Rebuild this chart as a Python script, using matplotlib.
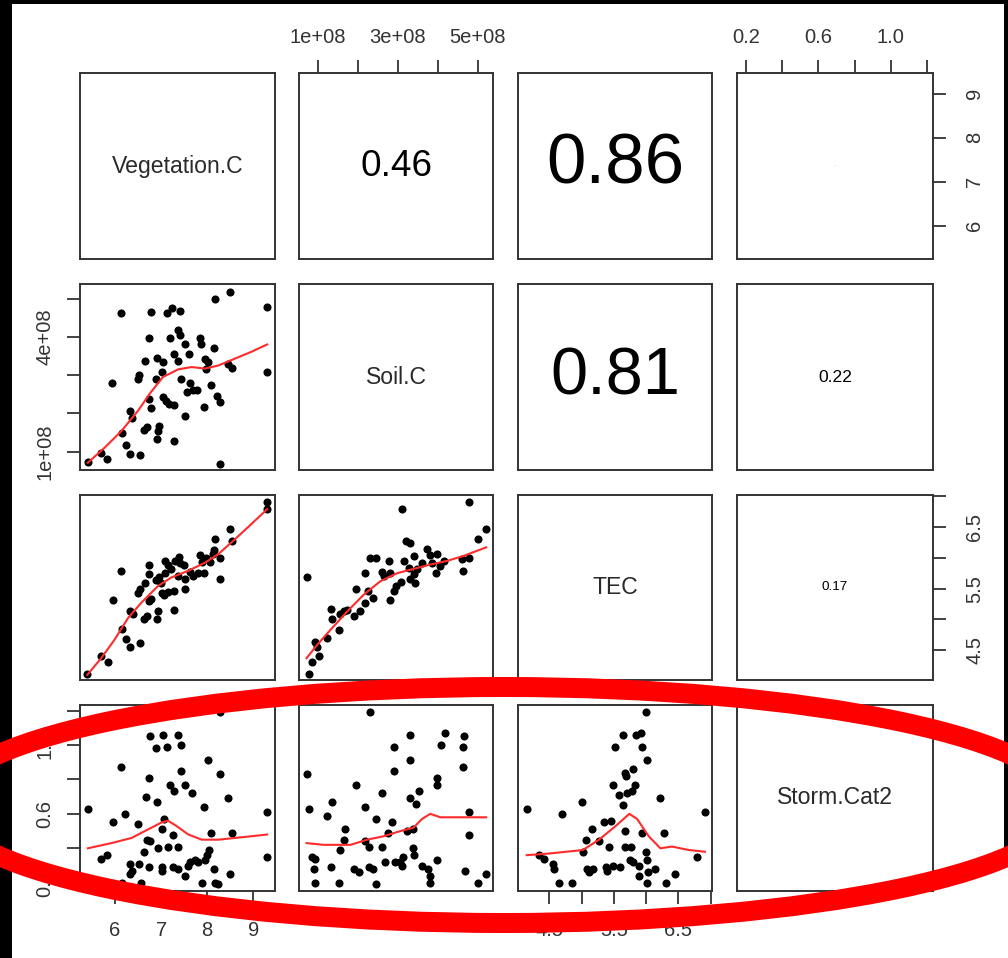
import numpy as np
import matplotlib; matplotlib.use("Agg")
import matplotlib.pyplot as plt
from matplotlib.patches import Ellipse, Rectangle

plt.rcParams["font.family"] = ["Liberation Sans", "DejaVu Sans"]

# ---- data (soil carbon in units of 1e8) ----
names = ["Vegetation.C", "Soil.C", "TEC", "Storm.Cat2"]

# row 2 / col 1 : Soil.C vs Vegetation.C
p21_veg = [5.41,5.69,5.83,6.12,5.94, 6.16,6.23,6.32,6.55,6.32, 6.36,6.49,6.51,6.63,6.70,
           6.73,6.78,6.64,6.73,6.77, 6.90,6.88,6.96,6.93,6.90, 7.04,7.01,7.04,7.10,7.17,
           7.28,7.12,7.24,7.41,7.19, 7.37,7.41,7.28,7.36,7.51, 7.60,7.43,7.62,7.57,7.70,
           7.78,7.51,7.28,7.84,7.86, 7.95,8.01,7.97,7.93,8.08, 8.15,8.17,8.49,8.22,8.28,
           8.44,8.53,8.27,9.30,9.30]
p21_soil = [0.73,0.96,0.82,4.61,2.80, 1.48,1.18,0.93,0.90,2.07, 1.89,2.89,2.99,1.57,1.65,
            2.38,2.13,3.36,3.97,4.64, 3.45,2.90,1.68,1.54,1.32, 3.34,3.08,2.42,2.33,2.25,
            2.22,4.61,4.76,4.68,3.97, 4.18,4.06,3.54,3.36,3.80, 3.56,2.90,2.80,2.55,2.60,
            2.62,1.94,1.28,3.97,3.80, 3.41,3.34,3.15,2.16,2.75, 3.71,4.99,5.18,2.46,2.29,
            3.30,3.18,0.68,4.79,3.08]
p21_fit_veg = [5.41,5.78,6.14,6.50,6.75,7.04,7.37,7.66,7.95,8.24,8.60,8.96,9.30]
p21_fit_soil = [0.71,1.11,1.54,2.07,2.51,2.95,3.15,3.21,3.17,3.25,3.43,3.61,3.80]

# row 3 / col 1 : TEC vs Vegetation.C
p31_veg = [5.40,5.69,5.85,5.96,6.12, 6.16,6.23,6.32,6.55,6.32, 6.38,6.49,6.54,6.64,6.63,
           6.70,6.73,6.78,6.74,6.74, 6.90,6.93,6.88,6.96,7.01, 7.07,7.15,7.28,7.28,7.09,
           7.14,7.22,7.09,7.30,7.39, 7.41,7.50,7.36,7.51,7.51, 7.62,7.70,7.79,7.93,7.84,
           7.88,7.97,8.06,8.13,8.15, 8.28,8.17,8.28,8.49,8.53, 9.30,9.30,6.99]
p31_tec = [4.12,4.40,4.31,5.32,5.79, 4.84,4.68,4.55,4.61,5.13, 5.09,5.43,5.49,5.59,5.01,
           5.05,5.30,5.33,5.88,5.74, 5.01,5.13,5.64,5.68,5.43, 5.39,5.44,5.46,5.16,5.95,
           5.89,5.82,5.76,5.95,6.02, 5.92,5.88,5.71,5.66,5.49, 5.77,5.70,5.76,5.76,6.04,
           5.93,6.00,5.93,6.06,6.13, 5.99,6.31,5.66,6.47,6.28, 6.91,6.80,5.59]
p31_fit_veg = [5.40,5.70,5.99,6.28,6.57,6.93,7.22,7.59,7.95,8.24,8.60,8.96,9.30]
p31_fit_tec = [4.10,4.37,4.67,5.02,5.27,5.54,5.68,5.79,5.92,6.06,6.30,6.55,6.79]

# row 3 / col 2 : TEC vs Soil.C
p32_soil = [0.71,0.77,0.85,0.91,0.96, 1.02,1.21,1.31,1.35,1.52, 1.54,1.64,1.71,1.91,2.06,
            1.96,2.18,2.18,2.24,2.38, 2.29,2.46,2.60,2.66,2.77, 2.81,2.81,2.89,2.96,3.08,
            3.10,3.14,3.21,3.31,3.27, 3.29,3.39,3.41,3.43,3.48, 3.60,3.73,3.79,3.85,3.98,
            3.96,4.06,4.14,4.60,4.62, 4.77,4.79,5.00,5.21]
p32_tec = [5.68,4.12,4.31,4.64,4.55, 4.40,4.69,5.17,5.00,4.83, 5.08,5.13,5.16,5.06,5.13,
           5.49,5.76,5.27,5.46,5.35, 5.99,5.99,5.77,5.70,5.95, 5.76,5.32,5.46,5.54,5.61,
           6.80,5.95,6.28,6.24,5.84, 5.66,6.03,5.73,5.59,5.82, 5.92,6.14,6.04,5.92,6.06,
           5.76,5.87,5.95,5.98,5.79, 5.99,6.91,6.30,6.47]
p32_fit_soil = [0.71,0.98,1.31,1.73,2.14,2.56,2.98,3.39,3.81,4.23,4.64,5.21]
p32_fit_tec = [4.37,4.59,4.83,5.13,5.40,5.62,5.75,5.82,5.89,5.95,6.03,6.17]

# row 4 / col 1 : Storm.Cat2 vs Vegetation.C
p41_veg = [5.41,5.70,5.83,5.96,6.12, 6.21,6.16,6.32,6.36,6.32, 6.52,6.56,6.50,6.63,6.67,
           6.70,6.75,6.73,6.73,6.75, 6.88,6.90,6.93,7.01,7.07, 7.04,7.12,7.01,7.01,7.14,
           7.19,7.25,7.28,7.26,7.36, 7.37,7.43,7.43,7.37,7.51, 7.51,7.59,7.62,7.67,7.73,
           7.79,7.88,7.93,7.95,7.99, 8.02,8.04,8.08,8.15,8.17, 8.24,8.28,8.28,8.44,8.53,
           8.49,9.30,9.30]
p41_storm = [0.63,0.34,0.36,0.55,0.87, 0.60,0.20,0.31,0.27,0.25, 0.31,0.20,0.54,0.38,0.70,
             0.45,0.44,0.29,0.81,1.05, 0.98,0.67,0.40,0.51,0.57, 1.06,0.99,0.29,0.27,0.41,
             0.77,0.48,0.73,0.29,0.41, 1.06,1.00,0.85,0.28,0.77, 0.24,0.30,0.32,0.72,0.33,
             0.32,0.20,0.64,0.33,0.36, 0.91,0.39,0.49,0.28,0.20, 0.19,1.19,0.83,0.69,0.49,
             0.25,0.61,0.35]
p41_fit_veg = [5.41,5.92,6.36,6.72,7.01,7.15,7.33,7.59,7.88,8.24,8.60,8.96,9.30]
p41_fit_storm = [0.40,0.43,0.46,0.51,0.55,0.56,0.53,0.48,0.45,0.45,0.46,0.47,0.48]

# row 4 / col 2 : Storm.Cat2 vs Soil.C
p42_soil = [0.73,0.77,0.85,0.93,0.89, 0.93,1.21,1.31,1.35,1.52, 1.54,1.64,1.68,1.89,2.02,
            1.96,2.18,2.18,2.27,2.27, 2.38,2.31,2.46,2.46,2.60, 2.60,2.68,2.74,2.85,2.91,
            2.91,2.93,3.06,3.13,3.10, 3.23,3.31,3.31,3.29,3.38, 3.38,3.41,3.46,3.52,3.60,
            3.75,3.81,3.79,3.98,3.98, 3.98,4.08,4.17,4.62,4.66, 4.62,4.79,4.77,4.68,5.00,
            5.21]
p42_storm = [0.83,0.63,0.35,0.34,0.28, 0.20,0.59,0.29,0.67,0.20, 0.39,0.45,0.51,0.28,0.26,
             0.77,0.64,0.44,0.41,0.29, 0.28,1.19,0.57,0.19,0.72, 0.41,0.32,0.49,0.55,0.99,
             0.85,0.32,0.32,0.35,0.30, 0.50,1.06,0.91,0.69,0.51, 0.40,0.36,0.66,0.73,0.30,
             0.28,0.24,0.20,0.81,0.77, 0.33,1.00,1.07,0.99,1.05, 0.87,0.61,0.48,0.27,0.20,
             0.25]
p42_fit_soil = [0.71,1.14,1.81,2.23,2.64,3.06,3.39,3.60,3.81,4.06,4.48,5.21]
p42_fit_storm = [0.43,0.42,0.42,0.45,0.47,0.50,0.52,0.57,0.60,0.58,0.58,0.58]

# row 4 / col 3 : Storm.Cat2 vs TEC
p43_tec = [4.15,4.34,4.41,4.56,4.57, 4.65,4.70,4.85,5.01,5.02, 5.07,5.08,5.12,5.17,5.16,
           5.27,5.34,5.38,5.39,5.43, 5.45,5.48,5.49,5.52,5.58, 5.59,5.64,5.64,5.67,5.69,
           5.68,5.68,5.71,5.76,5.75, 5.79,5.83,5.78,5.79,5.85, 5.92,5.93,5.89,5.89,5.94,
           5.99,6.01,5.99,6.02,6.01, 6.03,6.14,6.22,6.27,6.30, 6.45,6.79,6.91]
p43_storm = [0.63,0.36,0.34,0.31,0.28, 0.20,0.60,0.20,0.67,0.38, 0.45,0.28,0.26,0.28,0.51,
             0.44,0.55,0.29,0.27,0.41, 0.56,0.30,0.77,0.99,0.71, 0.29,1.06,0.65,0.84,0.82,
             0.50,0.41,0.72,0.41,0.33, 0.86,0.77,0.73,0.32,1.06, 1.07,0.99,0.30,0.24,0.49,
             1.19,0.91,0.38,0.33,0.20, 0.26,0.28,0.69,0.49,0.20, 0.25,0.35,0.61]
p43_fit_tec = [4.15,4.51,4.76,5.02,5.27,5.53,5.74,5.86,6.04,6.22,6.40,6.66,6.91]
p43_fit_storm = [0.36,0.37,0.38,0.39,0.45,0.53,0.60,0.57,0.47,0.40,0.41,0.39,0.38]

# upper panels: correlation text and its size (pt)
cor_cells = [(0, 1, "0.46", 26.6), (0, 2, "0.86", 51), (0, 3, "0.02", 1.1),
             (1, 2, "0.81", 48), (1, 3, "0.22", 12.6), (2, 3, "0.17", 9.7)]

# ---- layout ----
W, H = 1008, 958
fig = plt.figure(figsize=(W / 100, H / 100), dpi=100)
cols = [(80, 275), (299, 493), (518, 712), (737, 933)]
rows = [(73, 259), (284, 470), (495, 680), (705, 891)]
lims = [(5.24, 9.47), (0.52e8, 5.38e8), (4.015, 7.02), (0.152, 1.232)]
GREY = "#333333"

axes = {}
for r in range(4):
    for c in range(4):
        x0, x1 = cols[c]; y0, y1 = rows[r]
        ax = fig.add_axes([x0 / W, 1 - y1 / H, (x1 - x0) / W, (y1 - y0) / H])
        ax.set_xlim(*lims[c]); ax.set_ylim(*lims[r])
        ax.set_xticks([]); ax.set_yticks([])
        for s in ax.spines.values():
            s.set_linewidth(1.4); s.set_color(GREY)
        axes[r, c] = ax

for i, n in enumerate(names):
    ax = axes[i, i]
    ax.text(0.5, 0.5, n, transform=ax.transAxes, ha="center", va="center",
            fontsize=16.6, color="#2a2a2a")

for r, c, txt, fs in cor_cells:
    ax = axes[r, c]
    ax.text(0.5, 0.5, txt, transform=ax.transAxes, ha="center", va="center",
            fontsize=fs, color="black" if fs > 2 else "#bbbbbb")

E8 = 1e8
scatters = [((1, 0), p21_veg, np.array(p21_soil) * E8, p21_fit_veg, np.array(p21_fit_soil) * E8),
            ((2, 0), p31_veg, p31_tec, p31_fit_veg, p31_fit_tec),
            ((2, 1), np.array(p32_soil) * E8, p32_tec, np.array(p32_fit_soil) * E8, p32_fit_tec),
            ((3, 0), p41_veg, p41_storm, p41_fit_veg, p41_fit_storm),
            ((3, 1), np.array(p42_soil) * E8, p42_storm, np.array(p42_fit_soil) * E8, p42_fit_storm),
            ((3, 2), p43_tec, p43_storm, p43_fit_tec, p43_fit_storm)]
for key, x, y, fx, fy in scatters:
    ax = axes[key]
    ax.scatter(x, y, s=34, c="black", lw=0, zorder=2)
    ax.plot(fx, fy, color="#ff2b2b", lw=1.5, zorder=3)

# ---- axes on the outer edges (R pairs style) ----
veg_t = [6, 7, 8, 9]
soil_t = [1e8, 2e8, 3e8, 4e8, 5e8]
tec_t = [4.5, 5.0, 5.5, 6.0, 6.5, 7.0]
storm_t = [0.2, 0.4, 0.6, 0.8, 1.0, 1.2]
tk = dict(length=9.4, width=1.3, color=GREY, labelsize=14.5, labelcolor=GREY)

def xaxis(ax, side, ticks, labels, pad):
    ax.set_xticks(ticks); ax.set_xticklabels(labels)
    ax.tick_params(axis="x", bottom=side == "bottom", labelbottom=side == "bottom",
                   top=side == "top", labeltop=side == "top", pad=pad, **tk)

def yaxis(ax, side, ticks, labels, pad):
    ax.set_yticks(ticks); ax.set_yticklabels(labels, rotation=90, va="center")
    ax.tick_params(axis="y", left=side == "left", labelleft=side == "left",
                   right=side == "right", labelright=side == "right", pad=pad, **tk)

xaxis(axes[3, 0], "bottom", veg_t, ["6", "7", "8", "9"], 12)
xaxis(axes[0, 1], "top", soil_t, ["1e+08", "", "3e+08", "", "5e+08"], 9)
xaxis(axes[3, 2], "bottom", tec_t, ["4.5", "", "5.5", "", "6.5", ""], 12)
xaxis(axes[0, 3], "top", storm_t, ["0.2", "", "0.6", "", "1.0", ""], 9)
yaxis(axes[0, 3], "right", veg_t, ["6", "7", "8", "9"], 14)
yaxis(axes[1, 0], "left", soil_t, ["1e+08", "", "", "4e+08", ""], 9)
yaxis(axes[2, 3], "right", tec_t, ["4.5", "", "5.5", "", "6.5", ""], 14)
yaxis(axes[3, 0], "left", storm_t, ["0.2", "", "0.6", "", "1.0", ""], 9)

# ---- black frame of the screenshot and the red highlight ----
for x, y, w, h in [(0, 0, 12, H), (0, 0, W, 4), (1004, 0, 4, 862)]:
    fig.add_artist(Rectangle((x / W, 1 - (y + h) / H), w / W, h / H,
                             transform=fig.transFigure, fc="black", ec="none", zorder=10))
fig.add_artist(Ellipse((504 / W, 1 - 805 / H), 1120 / W, 236 / H, transform=fig.transFigure,
                       fill=False, ec="#ff0000", lw=14.4, zorder=11))

fig.savefig("out.png", dpi=100)
